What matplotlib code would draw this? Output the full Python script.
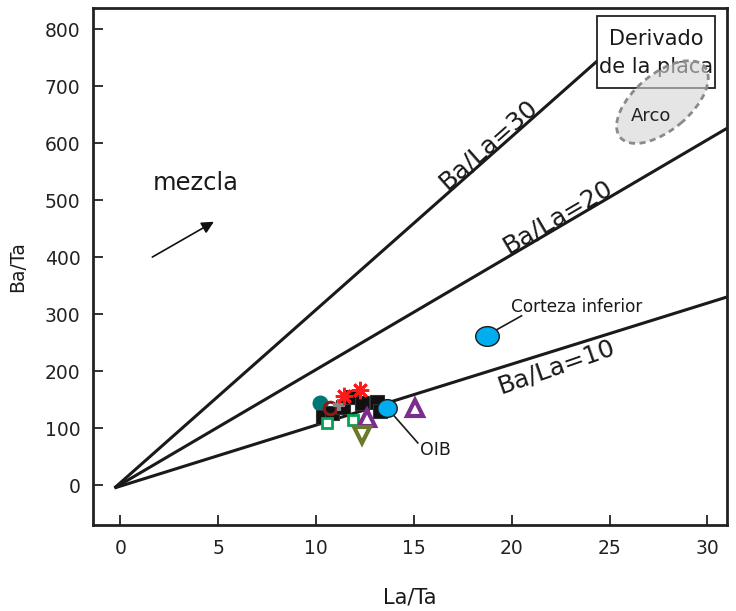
import matplotlib
matplotlib.use("Agg")
import matplotlib.pyplot as plt
import numpy as np
from matplotlib.patches import Ellipse, Rectangle
from matplotlib.path import Path
from matplotlib.markers import MarkerStyle
import matplotlib.transforms as mtrans

plt.rcParams['font.family'] = ['DejaVu Sans']

# ---- data ----
ratios = [10, 20, 30]
ratio_labels = ["Ba/La=10", "Ba/La=20", "Ba/La=30"]
line_end_x = [31.0, 31.0, 24.4]
line_end_y = [330, 626, 745]
label_x = [22.0, 22.6, 19.15]

teal_x, teal_y = [10.22], [144]
darkred_x, darkred_y = [10.69], [135]
gray_x, gray_y = [11.15], [140]
black_x = [10.33, 10.79, 11.40, 11.86, 12.37, 13.09, 13.29]
black_y = [119, 126, 137, 154, 144, 146, 130]
red_x = [11.45, 12.27]
red_y = [156, 167]
green_x = [10.58, 11.91]
green_y = [109, 114]
purple_x = [12.58, 15.08]
purple_y = [118, 135]
olive_x, olive_y = [12.37], [88]
oib_x, oib_y = [13.65], [135]
crust_x, crust_y = [18.76], [261]

xticks = [0, 5, 10, 15, 20, 25, 30]
yticks = [0, 100, 200, 300, 400, 500, 600, 700, 800]

fig = plt.figure(figsize=(7.36, 6.11), dpi=100)
ax = fig.add_axes([93/736, 1-525/611, (727-93)/736, (525-8)/611])
ax.set_xlim(-1.4, 31.0)
ax.set_ylim(-70, 837)

for s in ax.spines.values():
    s.set_linewidth(2.0)
    s.set_color('#222222')
ax.set_xticks(xticks)
ax.set_yticks(yticks)
ax.tick_params(direction='in', length=7, width=1.3, labelsize=13.5, colors='#222222', pad=9)
ax.tick_params(axis='x', pad=10)

# reference lines
ox, oy = -0.3, -5
fig.canvas.draw()
for i, (xe, ye) in enumerate(zip(line_end_x, line_end_y)):
    ax.plot([ox, xe], [oy, ye], color='#1a1a1a', lw=2.2, zorder=2, solid_capstyle='butt')
    p1 = ax.transData.transform((ox, oy))
    p2 = ax.transData.transform((xe, ye))
    ang = np.degrees(np.arctan2(p2[1]-p1[1], p2[0]-p1[0]))
    lx = label_x[i]
    ly = oy + (ye-oy)/(xe-ox)*(lx-ox)
    nx, ny = -np.sin(np.radians(ang)), np.cos(np.radians(ang))
    if i == 0:
        off = -2.5
        va = 'top'
        rot = ang + 2
    else:
        off = 2.0
        va = 'baseline'
        rot = ang
    ax.annotate(ratio_labels[i], xy=(lx, ly), xytext=(off*nx, off*ny),
                textcoords='offset points', fontsize=18, rotation=rot,
                rotation_mode='anchor', ha='center', va=va, color='#1a1a1a')

# mezcla
ax.text(3.83, 530, "mezcla", fontsize=17.5, ha='center', va='center', color='#1a1a1a')
ax.annotate("", xy=(4.78, 462), xytext=(1.63, 400),
            arrowprops=dict(arrowstyle='-|>', color='#111111', lw=1.2,
                            mutation_scale=18, shrinkA=0, shrinkB=0))

# box "Derivado de la placa"
box = Rectangle((24.34, 697), 30.4-24.34, 823-697, facecolor='white',
                edgecolor='#222222', lw=1.3, zorder=3)
ax.add_patch(box)
ax.text(27.37, 782, "Derivado", fontsize=15, ha='center', va='center', zorder=4, color='#1a1a1a')
ax.text(27.37, 733, "de la placa", fontsize=15, ha='center', va='center', zorder=4, color='#1a1a1a')

# Arco ellipse (size in inches, centre in data)
tr = fig.dpi_scale_trans + mtrans.ScaledTranslation(27.7, 672, ax.transData)
ell = Ellipse((0, 0), width=1.10, height=0.56, angle=40, transform=tr,
              facecolor='#d4d4d4', alpha=0.6, edgecolor='none', zorder=5)
ax.add_patch(ell)
ell2 = Ellipse((0, 0), width=1.10, height=0.56, angle=40, transform=tr,
               facecolor='none', edgecolor='#8a8a8a', lw=2.0,
               linestyle=(0, (2.2, 1.6)), zorder=6)
ax.add_patch(ell2)
ax.text(27.1, 647, "Arco", fontsize=13, ha='center', va='center', zorder=7, color='#222222')

# ellipse markers
t = np.linspace(0, 2*np.pi, 60)
crust_marker = MarkerStyle(Path(np.column_stack([1.2*np.cos(t), np.sin(t)])))
oib_marker = MarkerStyle(Path(np.column_stack([1.1*np.cos(t), np.sin(t)])))

# data points
ax.plot(black_x, black_y, 's', ms=10.5, color='#111111', mec='#333333', mew=0.8, zorder=6, ls='none')
ax.plot(teal_x, teal_y, 'o', ms=10.5, color='#007777', mec='#007777', zorder=5, ls='none')
ax.plot(darkred_x, darkred_y, 'o', ms=9, mfc='none', mec='#8b1a1a', mew=2.2, zorder=7, ls='none')
ax.plot(gray_x, gray_y, '+', ms=9, color='#888888', mew=3, zorder=7, ls='none')
ax.plot(red_x, red_y, marker=(8, 2, 0), ms=12.5, color='#ff1a1a', mew=2.0, zorder=8, ls='none')
ax.plot(green_x, green_y, 's', ms=7.5, mfc='white', mec='#00a651', mew=2, zorder=7, ls='none')
ax.plot(purple_x, purple_y, '^', ms=11, mfc='white', mec='#7b2d8e', mew=3, zorder=7, ls='none')
ax.plot(olive_x, olive_y, 'v', ms=12, mfc='white', mec='#6b7a2a', mew=3, zorder=7, ls='none')
ax.plot(oib_x, oib_y, marker=oib_marker, ms=14, color='#00aeef', mec='#1a1a1a', mew=1, zorder=7, ls='none')
ax.plot(crust_x, crust_y, marker=crust_marker, ms=17, color='#00aeef', mec='#1a1a1a', mew=1, zorder=7, ls='none')

# annotations
ax.plot([14.0, 15.2], [121, 74], color='#1a1a1a', lw=1.2, zorder=6)
ax.text(15.3, 62, "OIB", fontsize=12.5, ha='left', va='center', color='#1a1a1a')
ax.plot([19.2, 20.5], [272, 297], color='#1a1a1a', lw=1.2, zorder=6)
ax.text(19.95, 313, "Corteza inferior", fontsize=12.2, ha='left', va='center', color='#1a1a1a')

ax.set_ylabel("Ba/Ta", fontsize=13.5, color='#1a1a1a')
ax.yaxis.set_label_coords(-0.104, 0.5)
ax.set_xlabel("La/Ta", fontsize=15, color='#1a1a1a')
ax.xaxis.set_label_coords(0.5, -0.12)

fig.savefig("out.png", dpi=100)
